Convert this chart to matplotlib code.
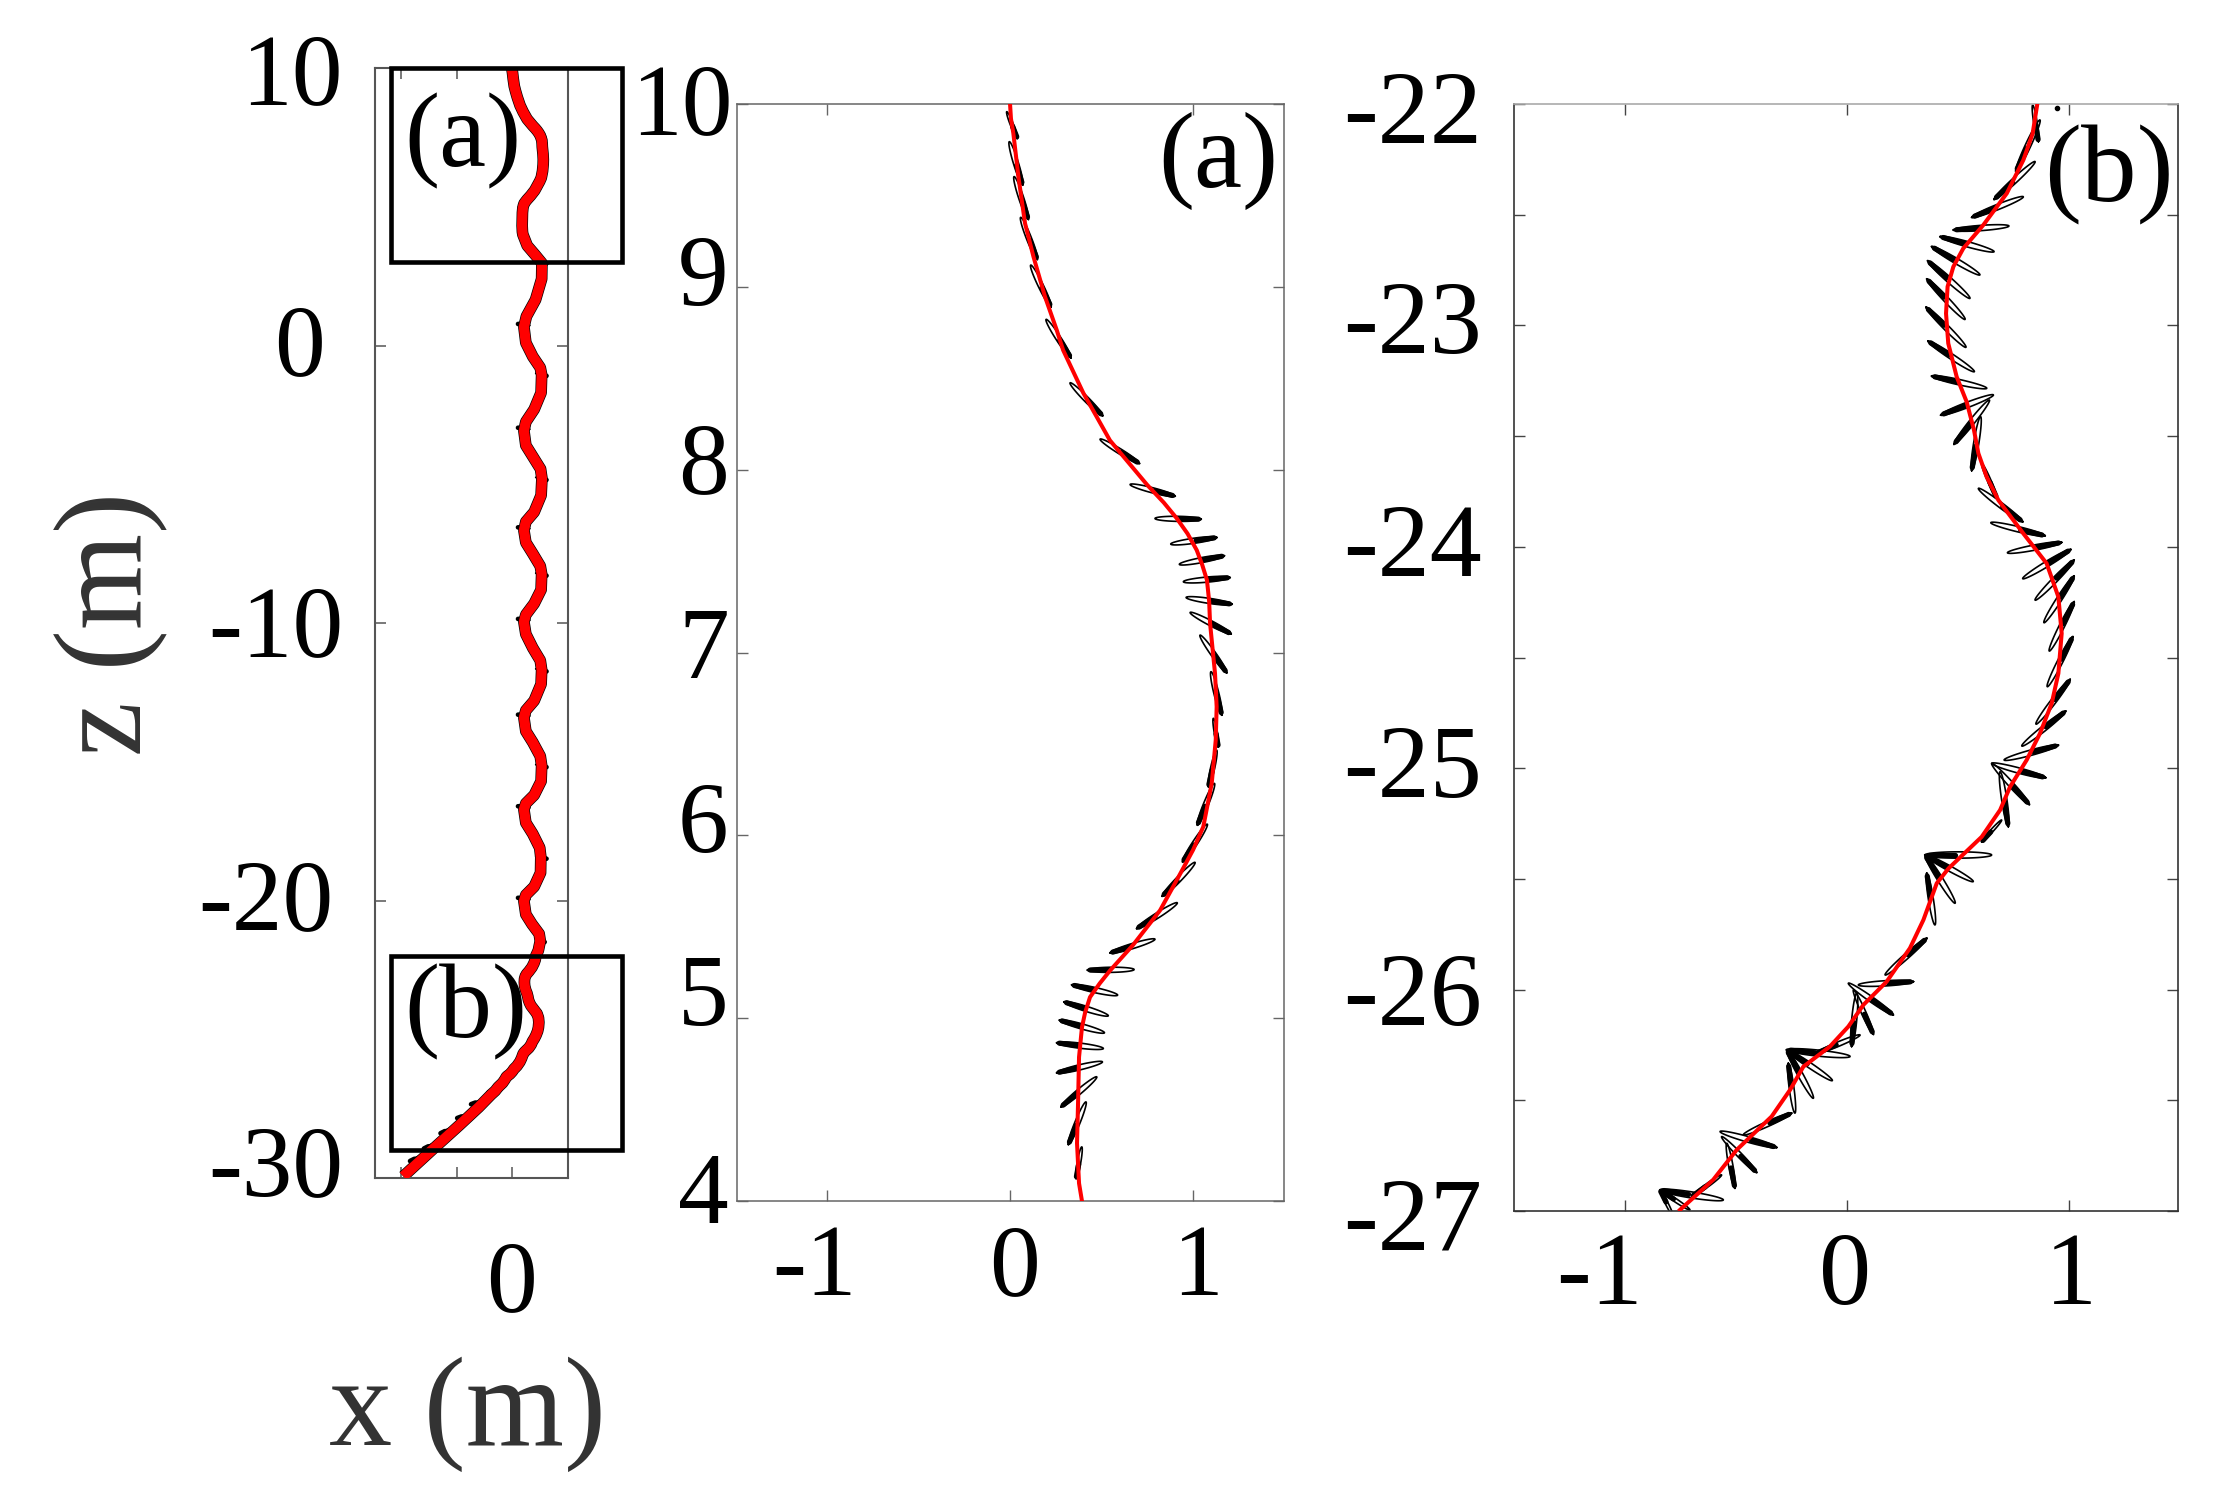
import matplotlib
matplotlib.use("Agg")
import matplotlib.pyplot as plt
import matplotlib.transforms as mt
from matplotlib.patches import Rectangle
import numpy as np

W, H = 2239, 1490
plt.rcParams['font.family'] = ['Liberation Serif', 'DejaVu Serif']

# ---- centreline x, z (m)
curve_a_x = [0, .005, .018, .046, .082, .128, .191, .255, .29, .337, .40, .546, .75, .84, .91, .97, 1.02, 1.05, 1.076, 1.088, 1.093,
             1.102, 1.120, 1.129, 1.124, 1.102, 1.056, 1.0, .93, .82, .672, .546, .49, .437, .41, .393, .377, .372, .366, .377, .393]
curve_a_z = [10, 9.92, 9.84, 9.60, 9.347, 9.165, 8.946, 8.764, 8.654, 8.554, 8.42, 8.16, 7.916, 7.82, 7.735, 7.65, 7.56, 7.48, 7.396, 7.28, 7.16,
             7.068, 6.886, 6.703, 6.521, 6.284, 6.047, 5.92, 5.79, 5.59, 5.40, 5.26, 5.19, 5.115, 5.03, 4.95, 4.787, 4.55, 4.316, 4.097, 4.0]

curve_b_x = [.859, .838, .796, .721, .615, .525, .480, .454, .447, .457, .495, .540, .573, .593, .630, .683, .796, .901,
             .954, .969, .954, .924, .871, .811, .736, .691, .608, .458, .405, .345, .284, .179, .074, .006, -.077, -.197,
             -.257, -.34, -.498, -.604, -.754]
curve_b_z = [-22.0, -22.133, -22.253, -22.404, -22.547, -22.652, -22.735, -22.825, -22.946, -23.081, -23.232, -23.345,
             -23.472, -23.578, -23.683, -23.789, -23.94, -24.075, -24.226, -24.391, -24.572, -24.707, -24.843, -24.963,
             -25.084, -25.189, -25.31, -25.453, -25.52, -25.685, -25.813, -25.964, -26.069, -26.167, -26.257, -26.348,
             -26.453, -26.573, -26.724, -26.859, -26.995]

curve_mid_x = [.55, .85, 1.08, 1.07, .85, .52, .43, .50, .75, 1.02, 1.07, 1.05, .80, .50, .43, .50, .75, 1.03, 1.08,
               1.05, .80, .50, .43, .50, .75, 1.02, 1.07, 1.05, .80, .50, .43, .50, .75, 1.02, 1.07, 1.05, .80, .50,
               .43, .50, .75, 1.02, 1.07, 1.05, .80, .50, .43, .50, .75, 1.0, 1.04, 1.03, .80, .50, .43, .50, .72,
               .98, 1.02, .95]
curve_mid_z = [3.6, 3.25, 2.97, 2.4, 1.65, 1.05, .67, .1, -.4, -.8, -1.06, -1.7, -2.3, -2.75, -3.07, -3.6, -4.0, -4.45,
               -4.79, -5.4, -6.0, -6.35, -6.66, -7.1, -7.5, -7.95, -8.24, -8.8, -9.3, -9.7, -9.96, -10.4, -10.9, -11.35,
               -11.69, -12.2, -12.8, -13.15, -13.41, -13.9, -14.3, -14.8, -15.14, -15.7, -16.2, -16.5, -16.72, -17.2,
               -17.6, -18.1, -18.44, -19.0, -19.5, -19.8, -20.02, -20.5, -20.85, -21.2, -21.46, -21.8]

curve_tail_x = [-1.2, -1.9, -2.84, -3.92]
curve_tail_z = [-27.45, -28.1, -28.95, -29.94]

# ---- blades: thin end x, z, thick end x, z
blades_a = [
    (-.018, 9.958, .040, 9.812), (-.004, 9.794, .069, 9.557), (.022, 9.603, .100, 9.369),
    (.058, 9.380, .149, 9.150), (.113, 9.119, .224, 8.891), (.197, 8.822, .333, 8.612),
    (.328, 8.475, .506, 8.295), (.492, 8.167, .707, 8.034), (.656, 7.919, .902, 7.855),
    (.792, 7.733, 1.044, 7.729), (.878, 7.593, 1.130, 7.629), (.925, 7.482, 1.171, 7.529),
    (.947, 7.387, 1.202, 7.410), (.962, 7.301, 1.213, 7.264), (.984, 7.219, 1.208, 7.102),
    (1.038, 7.095, 1.184, 6.889), (1.098, 6.895, 1.157, 6.658), (1.111, 6.64, 1.138, 6.484),
    (1.129, 6.466, 1.084, 6.266), (1.117, 6.284, 1.024, 6.056), (1.078, 6.061, .943, 5.855),
    (1.011, 5.852, .832, 5.667), (.914, 5.631, .692, 5.49), (.792, 5.432, .547, 5.357),
    (.678, 5.266, .423, 5.263), (.588, 5.126, .337, 5.182), (.537, 5.013, .295, 5.089),
    (.516, 4.92, .270, 4.989), (.510, 4.834, .255, 4.865), (.505, 4.761, .255, 4.701),
    (.474, 4.679, .279, 4.515), (.415, 4.542, .319, 4.309), (.392, 4.296, .361, 4.123),
]
blades_b = [
    (.838, -22.005, .864, -22.17), (.871, -22.072, .762, -22.306), (.849, -22.26, .664, -22.431),
    (.796, -22.419, .563, -22.512), (.731, -22.551, .480, -22.569), (.664, -22.667, .420, -22.599),
    (.600, -22.772, .382, -22.644), (.555, -22.878, .364, -22.708), (.533, -22.973, .360, -22.79),
    (.537, -23.099, .357, -22.918), (.575, -23.209, .366, -23.071), (.631, -23.284, .382, -23.229),
    (.661, -23.314, .423, -23.405), (.643, -23.337, .483, -23.537), (.603, -23.412, .563, -23.656),
    (.608, -23.623, .676, -23.78), (.593, -23.736, .793, -23.887), (.649, -23.891, .894, -23.95),
    (.724, -24.027, .969, -23.98), (.793, -24.144, 1.010, -24.012), (.849, -24.241, 1.025, -24.06),
    (.889, -24.343, 1.025, -24.132), (.913, -24.471, 1.025, -24.248), (.904, -24.632, 1.019, -24.406),
    (.853, -24.801, 1.007, -24.599), (.789, -24.9, .987, -24.742), (.709, -24.963, .954, -24.896),
    (.653, -24.978, .897, -25.043), (.653, -24.978, .823, -25.164), (.691, -25.016, .728, -25.264),
    (.698, -25.234, .608, -25.332), (.653, -25.392, .352, -25.392), (.570, -25.512, .352, -25.392),
    (.488, -25.61, .352, -25.392), (.397, -25.708, .360, -25.474), (.172, -25.934, .360, -25.768),
    (.051, -25.979, .300, -25.964), (.006, -25.971, .209, -26.114), (.029, -26.001, .119, -26.202),
    (.044, -26.016, .021, -26.257), (.059, -26.205, -.137, -26.287), (.014, -26.302, -.272, -26.272),
    (-.066, -26.411, -.272, -26.272), (-.152, -26.491, -.272, -26.272), (-.235, -26.558, -.265, -26.333),
    (-.468, -26.656, -.25, -26.558), (-.573, -26.641, -.317, -26.713), (-.566, -26.664, -.408, -26.826),
    (-.543, -26.694, -.506, -26.897), (-.566, -26.837, -.701, -26.935), (-.558, -26.95, -.844, -26.905),
    (-.709, -26.995, -.844, -26.905), (-.784, -27.025, -.844, -26.905),
]
# blades seen only on the overview: outer edge of each crest and the tail
blades_over = [
    (.85, 3.05, 1.27, 2.95), (.65, .72, .19, .78), (.85, -1.0, 1.27, -1.1), (.65, -3.02, .19, -2.96),
    (.85, -4.75, 1.27, -4.85), (.65, -6.6, .19, -6.55), (.85, -8.2, 1.27, -8.3), (.65, -9.9, .19, -9.85),
    (.85, -11.65, 1.27, -11.75), (.65, -13.35, .19, -13.3), (.85, -15.1, 1.27, -15.2), (.65, -16.66, .19, -16.6),
    (.85, -18.4, 1.27, -18.5), (.65, -19.96, .19, -19.9), (.85, -21.45, 1.2, -21.5),
    (-1.1, -27.2, -1.5, -27.35), (-1.6, -27.7, -2.0, -27.85), (-2.2, -28.2, -2.6, -28.4),
    (-2.8, -28.75, -3.2, -28.95), (-3.3, -29.2, -3.7, -29.4),
]

# ---- boxes on the overview
box_x = [-4.36, 3.96]
box_a_z = [3, 10]
box_b_z = [-29, -22]

# ---- axes ticks
over_xticks = [-4, -2, 0]
over_xlabels = ['', '', '0']
over_yticks = [-30, -20, -10, 0, 10]
a_xticks = [-1, 0, 1]
a_yticks = [4, 5, 6, 7, 8, 9, 10]
b_xticks = [-1, 0, 1]
b_yticks = [-27, -26.5, -26, -25.5, -25, -24.5, -24, -23.5, -23, -22.5, -22]
b_ylabels = ['-27', '', '-26', '', '-25', '', '-24', '', '-23', '', '-22']

fig = plt.figure(figsize=(W / 100, H / 100), dpi=100)


def make_ax(l, t, r, b, col, lw):
    ax = fig.add_axes([l / W, 1 - b / H, (r - l) / W, (b - t) / H])
    for s in ax.spines.values():
        s.set_color(col)
        s.set_linewidth(lw)
    return ax


def draw_blades(ax, blades, lw, thick, ratio=0.085):
    t = np.linspace(0, 2 * np.pi, 61)
    for x0, z0, x1, z1 in blades:
        c = np.array([(x0 + x1) / 2, (z0 + z1) / 2])
        v = np.array([(x1 - x0) / 2, (z1 - z0) / 2])
        n = np.array([-v[1], v[0]]) * ratio
        ex = c[0] + v[0] * np.cos(t) + n[0] * np.sin(t)
        ez = c[1] + v[1] * np.cos(t) + n[1] * np.sin(t)
        ax.plot(ex, ez, color='k', lw=lw, zorder=2, solid_joinstyle='round')
        # dark half: a rounded rod over the thick end of the blade
        ax.plot([c[0] + 0.1 * v[0], c[0] + 0.88 * v[0]], [c[1] + 0.1 * v[1], c[1] + 0.88 * v[1]],
                color='k', lw=thick, zorder=2, solid_capstyle='round')


def shift_labels(labels, offsets):
    for lab, (dx, dy) in zip(labels, offsets):
        lab.set_transform(lab.get_transform() + mt.Affine2D().translate(dx, -dy))


# ---- overview
ax0 = make_ax(375, 68, 568, 1178, '#555555', 1.5)
ax0.set_xlim(-4.94, 2.02)
ax0.set_ylim(-30, 10)
all_x = curve_a_x + curve_mid_x + curve_b_x + curve_tail_x
all_z = curve_a_z + curve_mid_z + curve_b_z + curve_tail_z
ax0.plot(all_x, all_z, color='k', lw=8.4, zorder=2, solid_capstyle='butt')
draw_blades(ax0, blades_a + blades_b + blades_over, 1.0, 3.4, ratio=0.15)
ax0.plot(all_x, all_z, color='#ff0000', lw=7.4, zorder=3, solid_capstyle='butt')
ax0.add_patch(Rectangle((box_x[0], box_a_z[0]), box_x[1] - box_x[0], box_a_z[1] - box_a_z[0],
                        fill=False, ec='k', lw=3.3, clip_on=False, zorder=4))
ax0.add_patch(Rectangle((box_x[0], box_b_z[0]), box_x[1] - box_x[0], box_b_z[1] - box_b_z[0],
                        fill=False, ec='k', lw=3.3, clip_on=False, zorder=4))
ax0.set_xticks(over_xticks, over_xlabels)
ax0.set_yticks(over_yticks, ['-30', '-20', '-10', '0', '10'])
ax0.tick_params(direction='in', length=8, width=1.1, color='#555555', top=True, right=True, labelsize=73)
ax0.tick_params(axis='x', pad=45)
ax0.tick_params(axis='y', pad=23)

# ---- panel (a)
ax1 = make_ax(737, 104, 1284, 1201, '#666666', 1.1)
ax1.set_xlim(-1.492, 1.497)
ax1.set_ylim(4, 10)
draw_blades(ax1, blades_a, 1.2, 3.8, ratio=0.11)
ax1.plot(curve_a_x, curve_a_z, color='#ff0000', lw=2.9, zorder=3)
ax1.set_xticks(a_xticks, ['-1', '0', '1'])
ax1.set_yticks(a_yticks, [str(v) for v in a_yticks])
ax1.tick_params(direction='in', length=8, width=1, color='#666666', top=True, right=True, labelsize=73)
ax1.tick_params(axis='x', pad=17)
ax1.tick_params(axis='y', pad=6)

# ---- panel (b)
ax2 = make_ax(1514, 104, 2178, 1211, '#333333', 1.2)
ax2.spines['top'].set_color('#aaaaaa')
ax2.set_xlim(-1.503, 1.494)
ax2.set_ylim(-27, -22)
draw_blades(ax2, blades_b, 1.2, 3.8, ratio=0.095)
ax2.plot(curve_b_x, curve_b_z, color='#ff0000', lw=2.9, zorder=3)
ax2.set_xticks(b_xticks, ['-1', '0', '1'])
ax2.set_yticks(b_yticks, b_ylabels)
ax2.tick_params(direction='in', length=8, width=1, color='#444444', top=True, right=True, labelsize=75)
ax2.tick_params(axis='x', pad=15)
ax2.tick_params(axis='y', pad=23)
ax2.plot([.95], [-22.02], 'o', color='k', ms=3, clip_on=False, zorder=3)

# ---- per-label nudges (pixels)
shift_labels(ax0.get_yticklabels(), [(0, -17), (-10, -6), (0, -2), (-18, -6), (0, 1)])
shift_labels(ax1.get_yticklabels(), [(0, -13), (0, -28), (0, -18), (0, -10), (0, -12), (0, -16), (4, -5)])
shift_labels(ax2.get_yticklabels(), [(0, 3), (0, 0), (0, -1), (0, 0), (0, -7), (0, 0), (0, -7), (0, 0), (0, -8), (0, 0), (0, 3)])
shift_labels(ax1.get_xticklabels(), [(-13, 0), (4, 0), (4, 0)])
shift_labels(ax2.get_xticklabels(), [(-26, 0), (-2, 0), (2, 0)])


def ptext(x, y, s, size, color='k', rot=0):
    fig.text(x / W, 1 - y / H, s, fontsize=size, color=color, rotation=rot, ha='center', va='center')


ptext(463, 141, '(a)', 76)
ptext(466, 1012, '(b)', 76)
ptext(1218, 161, '(a)', 78)
ptext(2109, 175, '(b)', 80)
ptext(467, 1414, 'x (m)', 91, '#333333')
ptext(111, 624, 'z (m)', 89, '#333333', 90)

fig.savefig('out.png', dpi=100, facecolor='white')
